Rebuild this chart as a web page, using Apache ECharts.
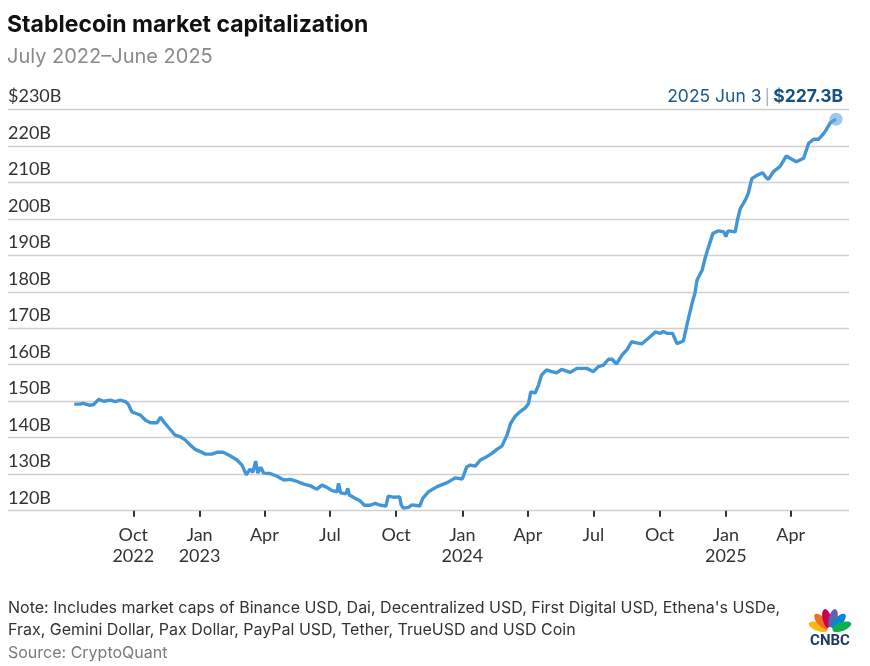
<!DOCTYPE html>
<html>
<head>
<meta charset="utf-8">
<title>Stablecoin market capitalization</title>
<script src="https://cdn.jsdelivr.net/npm/echarts@6/dist/echarts.min.js"></script>
<style>
  html, body { margin: 0; padding: 0; background: #fff; }
  #chart { width: 870px; height: 666px; }
</style>
</head>
<body>
<div id="chart"></div>
<script>
// values, in billions of US dollars
var dates = [
  '2022-07-11', '2022-07-19', '2022-07-23', '2022-08-02', '2022-08-07', '2022-08-14',
  '2022-08-21', '2022-08-30', '2022-09-06', '2022-09-13', '2022-09-20', '2022-09-24',
  '2022-09-29', '2022-10-04', '2022-10-11', '2022-10-18', '2022-10-25', '2022-11-03',
  '2022-11-08', '2022-11-12', '2022-11-19', '2022-11-28', '2022-12-05', '2022-12-12',
  '2022-12-19', '2022-12-26', '2023-01-02', '2023-01-09', '2023-01-18', '2023-01-25',
  '2023-02-03', '2023-02-13', '2023-02-22', '2023-03-01', '2023-03-07', '2023-03-12',
  '2023-03-16', '2023-03-20', '2023-03-23', '2023-03-27', '2023-03-31', '2023-04-09',
  '2023-04-18', '2023-04-28', '2023-05-07', '2023-05-14', '2023-05-26', '2023-06-04',
  '2023-06-13', '2023-06-20', '2023-06-27', '2023-07-04', '2023-07-11', '2023-07-13',
  '2023-07-16', '2023-07-23', '2023-07-26', '2023-07-28', '2023-08-05', '2023-08-12',
  '2023-08-18', '2023-08-26', '2023-09-02', '2023-09-09', '2023-09-17', '2023-09-20',
  '2023-09-27', '2023-10-06', '2023-10-08', '2023-10-11', '2023-10-18', '2023-10-23',
  '2023-11-03', '2023-11-07', '2023-11-15', '2023-11-27', '2023-12-11', '2023-12-22',
  '2024-01-01', '2024-01-07', '2024-01-12', '2024-01-19', '2024-01-26', '2024-02-04',
  '2024-02-11', '2024-02-18', '2024-02-25', '2024-03-03', '2024-03-08', '2024-03-14',
  '2024-03-21', '2024-03-28', '2024-04-02', '2024-04-05', '2024-04-11', '2024-04-16',
  '2024-04-20', '2024-04-27', '2024-05-04', '2024-05-11', '2024-05-18', '2024-05-30',
  '2024-06-08', '2024-06-22', '2024-07-01', '2024-07-08', '2024-07-15', '2024-07-22',
  '2024-07-27', '2024-08-02', '2024-08-10', '2024-08-17', '2024-08-23', '2024-08-30',
  '2024-09-06', '2024-09-15', '2024-09-25', '2024-10-02', '2024-10-06', '2024-10-11',
  '2024-10-19', '2024-10-25', '2024-11-03', '2024-11-08', '2024-11-15', '2024-11-19',
  '2024-11-22', '2024-11-29', '2024-12-03', '2024-12-08', '2024-12-14', '2024-12-22',
  '2024-12-29', '2025-01-01', '2025-01-04', '2025-01-14', '2025-01-17', '2025-01-21',
  '2025-01-28', '2025-02-01', '2025-02-06', '2025-02-13', '2025-02-21', '2025-02-26',
  '2025-03-01', '2025-03-08', '2025-03-17', '2025-03-26', '2025-03-31', '2025-04-09',
  '2025-04-19', '2025-04-26', '2025-05-03', '2025-05-10', '2025-05-17', '2025-05-20',
  '2025-05-26', '2025-06-03'
];
var caps = [
  149.2, 149.2, 149.4, 148.9, 149.1, 150.5,
  150.0, 150.3, 149.9, 150.3, 149.9, 149.2,
  147.1, 146.7, 146.2, 144.8, 144.1, 144.1,
  145.6, 144.4, 142.8, 140.7, 140.3, 139.4,
  138.0, 136.8, 136.2, 135.5, 135.5, 136.0,
  136.0, 135.0, 133.9, 132.5, 129.8, 131.4,
  130.5, 133.6, 130.3, 131.9, 130.3, 130.2,
  129.5, 128.4, 128.6, 128.2, 127.3, 126.8,
  125.9, 127.0, 126.4, 125.5, 125.2, 127.5,
  124.9, 124.6, 126.1, 124.3, 123.4, 122.7,
  121.5, 121.5, 122.0, 121.5, 121.3, 124.0,
  123.7, 123.8, 121.6, 120.7, 120.9, 121.6,
  121.3, 123.4, 125.2, 126.6, 127.7, 129.0,
  128.7, 132.0, 132.5, 132.2, 133.9, 134.8,
  135.7, 136.8, 137.7, 140.7, 143.9, 145.8,
  147.1, 148.1, 149.4, 152.6, 152.2, 154.5,
  157.2, 158.6, 158.1, 157.8, 158.7, 157.9,
  159.0, 159.0, 158.1, 159.5, 159.9, 161.5,
  161.5, 160.2, 162.7, 164.2, 166.3, 166.0,
  165.7, 167.2, 169.0, 168.6, 169.1, 168.6,
  168.6, 165.8, 166.5, 171.0, 176.8, 179.6,
  183.2, 185.9, 189.1, 192.3, 196.0, 196.7,
  196.4, 195.1, 196.7, 196.4, 199.6, 202.8,
  205.1, 206.9, 211.0, 211.9, 212.6, 211.3,
  210.8, 212.9, 214.3, 217.2, 216.6, 215.6,
  216.6, 220.7, 221.8, 221.8, 223.4, 224.3,
  226.3, 227.3
];
// quarterly tick positions on the x axis
var tickDates = [
  '2022-10-01', '2023-01-01', '2023-04-01', '2023-07-01', '2023-10-01', '2024-01-01',
  '2024-04-01', '2024-07-01', '2024-10-01', '2025-01-01', '2025-04-01'
];
var monthNames = ['Jan', 'Feb', 'Mar', 'Apr', 'May', 'Jun', 'Jul', 'Aug', 'Sep', 'Oct', 'Nov', 'Dec'];

var chart = echarts.init(document.getElementById('chart'));

function ts(s) { return +echarts.time.parse(s); }

var lineData = dates.map(function (d, i) { return [ts(d), caps[i]]; });
var lastDate = dates[dates.length - 1];
var lastCap = caps[caps.length - 1];
var tickValues = tickDates.map(ts);
var firstTick = tickValues[0];

function lastLabel() {
  var d = echarts.time.parse(lastDate);
  return d.getFullYear() + ' ' + monthNames[d.getMonth()] + ' ' + d.getDate();
}

var font = 'Lato, "Open Sans", sans-serif';
var wide = 'Inter, "Open Sans", sans-serif';
var dark = '#333333';

// peacock petals for the logo (yellow .. green, left to right)
var petalColors = ['#fcb711', '#f37021', '#cc004c', '#6460aa', '#0089d0', '#0db14b'];
var petalAngles = [70, 42, 14, -14, -42, -70];
var petals = petalColors.map(function (c, i) {
  return {
    type: 'ellipse',
    rotation: petalAngles[i] * Math.PI / 180,
    shape: { cx: 0, cy: -12.5, rx: 4.3, ry: 10 },
    style: { fill: c }
  };
});

var option = {
  animation: false,
  backgroundColor: '#fff',
  textStyle: { fontFamily: font },
  title: {
    text: 'Stablecoin market capitalization',
    subtext: 'July 2022\u2013June 2025',
    left: 2,
    top: 5,
    itemGap: 5,
    textStyle: { fontFamily: wide, fontSize: 23, fontWeight: 'bold', color: '#111', lineHeight: 30 },
    subtextStyle: { fontFamily: wide, fontSize: 20, color: '#8a8a8a', lineHeight: 24 }
  },
  grid: { left: 8, right: 21, top: 109.3, bottom: 155.3, containLabel: false },
  xAxis: {
    type: 'value',
    min: ts('2022-04-10'),
    max: ts('2025-06-21'),
    axisLine: { show: false },
    axisTick: {
      show: true,
      customValues: tickValues,
      length: 6,
      lineStyle: { color: dark, width: 2 }
    },
    axisLabel: {
      customValues: tickValues,
      margin: 14,
      fontSize: 18,
      lineHeight: 21,
      color: dark,
      fontFamily: font,
      formatter: function (val) {
        var d = new Date(val);
        var m = monthNames[d.getMonth()];
        if (val === firstTick || d.getMonth() === 0) {
          return m + '\n' + d.getFullYear();
        }
        return m;
      }
    },
    splitLine: { show: false }
  },
  yAxis: {
    type: 'value',
    min: 120,
    max: 230,
    interval: 10,
    axisLine: { show: false },
    axisTick: { show: false },
    axisLabel: {
      inside: true,
      margin: 0,
      align: 'left',
      verticalAlign: 'bottom',
      padding: [0, 0, 4, 0],
      fontSize: 18,
      color: dark,
      fontFamily: font,
      formatter: function (v) {
        return (v === 230 ? '$' : '') + v + 'B';
      }
    },
    splitLine: { lineStyle: { color: '#d0d0d0', width: 1.3 } }
  },
  series: [
    {
      type: 'line',
      data: lineData,
      showSymbol: false,
      symbol: 'none',
      lineStyle: { color: '#4396d6', width: 3.4 },
      z: 3
    },
    {
      type: 'scatter',
      data: [[ts(lastDate), lastCap]],
      symbolSize: 13,
      itemStyle: { color: 'rgba(91,164,222,0.75)' },
      z: 4
    }
  ],
  graphic: [
    {
      type: 'text',
      right: 27,
      top: 88,
      style: {
        text: '{d|' + lastLabel() + '} {s||} {v|$' + lastCap.toFixed(1) + 'B}',
        rich: {
          d: { fontFamily: wide, fontSize: 17.5, fill: '#1d5a8a' },
          s: { fontFamily: wide, fontSize: 15, fill: '#9aa8b4' },
          v: { fontFamily: wide, fontSize: 17.5, fontWeight: 'bold', fill: '#15507f' }
        }
      }
    },
    {
      type: 'text',
      left: 8,
      top: 597,
      style: {
        text: 'Note: Includes market caps of Binance USD, Dai, Decentralized USD, First Digital USD, Ethena\'s USDe,\n' +
              'Frax, Gemini Dollar, Pax Dollar, PayPal USD, Tether, TrueUSD and USD Coin',
        fontFamily: wide,
        fontSize: 16,
        lineHeight: 22,
        fill: dark
      }
    },
    {
      type: 'text',
      left: 8,
      top: 645,
      style: {
        text: 'Source: CryptoQuant',
        fontFamily: wide,
        fontSize: 16,
        fill: '#7a7a7a'
      }
    },
    {
      type: 'group',
      x: 830,
      y: 631,
      children: petals.concat([
        { type: 'circle', shape: { cx: 0, cy: -1.5, r: 2.6 }, style: { fill: '#fff' } }
      ])
    },
    {
      type: 'text',
      x: 830,
      y: 641,
      style: {
        text: 'CNBC',
        fontFamily: 'Roboto, sans-serif',
        fontSize: 15,
        fontWeight: 'bold',
        fill: '#1f3868',
        align: 'center',
        verticalAlign: 'middle'
      }
    }
  ]
};

chart.setOption(option);
</script>
</body>
</html>
